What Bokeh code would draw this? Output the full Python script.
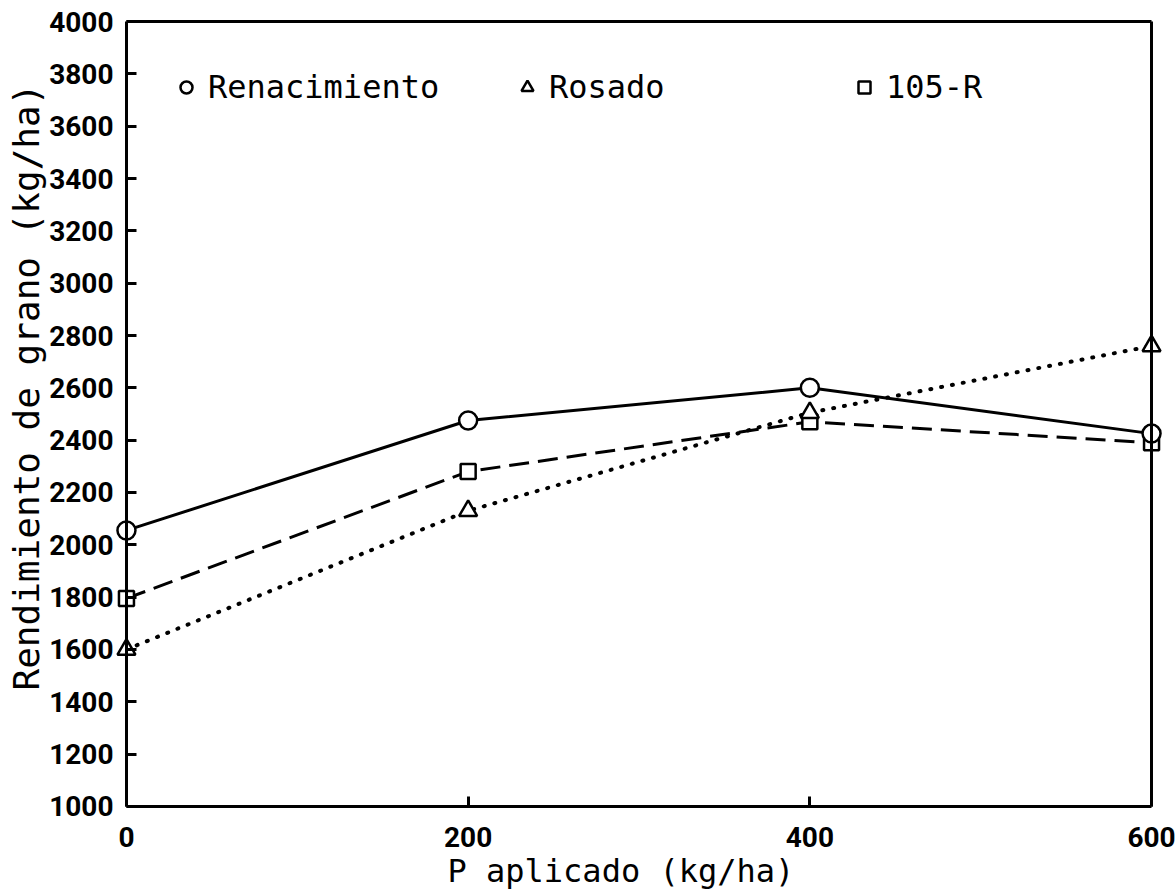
from bokeh.plotting import figure
from bokeh.models import Range1d, FixedTicker, Legend, LegendItem, LinearAxis, Title
from bokeh.embed import file_html
from bokeh.resources import INLINE

# Data
p_aplicado = [0, 200, 400, 600]
renacimiento = [2055, 2475, 2600, 2425]
rosado = [1600, 2130, 2505, 2760]
r105 = [1795, 2280, 2470, 2390]
x_ticks = [0, 200, 400, 600]
y_ticks = list(range(1000, 4001, 200))

TICK_FONT = "Roboto"
TEXT_FONT = "DejaVu Sans Mono"

X_MIN, X_MAX = 0, 600
Y_MIN, Y_MAX = 1000, 4000
XPAD = 7   # breathing room (data units) so edge markers are not clipped
YPAD = 8

p = figure(frame_width=1049, frame_height=789,
           x_range=Range1d(X_MIN - XPAD, X_MAX + XPAD),
           y_range=Range1d(Y_MIN - YPAD, Y_MAX + YPAD),
           output_backend="svg", toolbar_location=None,
           min_border_left=114, min_border_right=13,
           min_border_top=19, min_border_bottom=5)

p.xgrid.visible = False
p.ygrid.visible = False
p.outline_line_color = None
p.background_fill_color = "white"
p.border_fill_color = "white"

# ---- panel axes: tick labels only ----
xa = p.xaxis[0]
ya = p.yaxis[0]
for ax in (xa, ya):
    ax.axis_line_color = None
    ax.major_tick_line_color = None
    ax.minor_tick_line_color = None
    ax.major_tick_in = 0
    ax.major_tick_out = 0
    ax.major_label_text_font = TICK_FONT
    ax.major_label_text_font_style = "bold"
    ax.major_label_text_font_size = "28px"
    ax.major_label_text_color = "black"

xa.ticker = FixedTicker(ticks=x_ticks)
xa.major_label_standoff = 18
ya.ticker = FixedTicker(ticks=y_ticks)
ya.major_label_standoff = 1

# ---- axis titles ----
p.add_layout(Title(text="P aplicado (kg/ha)", align="left", offset=333,
                   standoff=0, text_font=TEXT_FONT, text_font_size="32px",
                   text_font_style="normal", text_color="black"), "below")
p.add_layout(Title(text="Rendimiento de grano (kg/ha)", align="left",
                   offset=118, standoff=0, text_font=TEXT_FONT,
                   text_font_size="36px", text_font_style="normal",
                   text_color="black"), "left")

# ---- frame axes: lines and inward ticks at the data limits ----
def frame_axis(ticks, bounds, loc, side):
    ax = LinearAxis(ticker=FixedTicker(ticks=ticks), bounds=bounds,
                    fixed_location=loc,
                    axis_line_width=3, axis_line_color="black",
                    major_tick_in=10, major_tick_out=0,
                    major_tick_line_width=3, major_tick_line_color="black",
                    minor_tick_line_color=None,
                    major_label_overrides={t: "" for t in ticks})
    p.add_layout(ax, side)

frame_axis(y_ticks, (Y_MIN, Y_MAX), X_MIN, "left")
frame_axis(x_ticks, (X_MIN, X_MAX), Y_MIN, "below")
frame_axis([], (X_MIN, X_MAX), Y_MAX, "above")
frame_axis([], (Y_MIN, Y_MAX), X_MAX, "right")

# ---- series ----
p.line(p_aplicado, rosado, line_color="black", line_width=4,
       line_dash="1 10", line_cap="round")
p.line(p_aplicado, r105, line_color="black", line_width=3, line_dash="20 9")
p.line(p_aplicado, renacimiento, line_color="black", line_width=3)

r_sq = p.scatter(p_aplicado, r105, marker="square", size=15,
                 fill_color="white", line_color="black", line_width=2.5)
r_tri = p.scatter(p_aplicado, rosado, marker="triangle", size=18,
                  fill_color="white", line_color="black", line_width=2.5)
r_circ = p.scatter(p_aplicado, renacimiento, marker="circle", size=18,
                   fill_color="white", line_color="black", line_width=2.5)

def make_legend(label, rend, loc):
    leg = Legend(items=[LegendItem(label=label, renderers=[rend])],
                 location=loc, orientation="horizontal",
                 border_line_color=None, background_fill_alpha=0,
                 padding=0, margin=0, spacing=0,
                 glyph_width=30, glyph_height=32, label_height=30,
                 label_standoff=7,
                 label_text_font=TEXT_FONT, label_text_font_size="32px",
                 label_text_color="black")
    p.add_layout(leg)

make_legend("Renacimiento", r_circ, (57, 702))
make_legend("Rosado", r_tri, (398, 702))
make_legend("105-R", r_sq, (735, 702))

open("out.html", "w").write(file_html(p, INLINE))
